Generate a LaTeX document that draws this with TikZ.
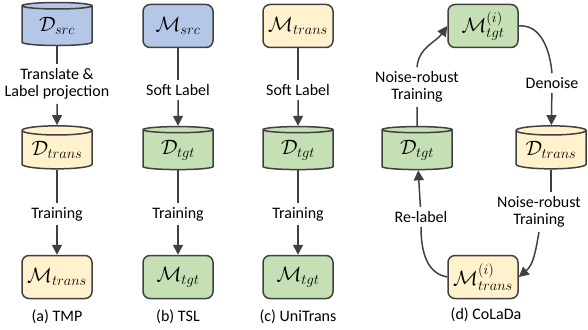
\documentclass[tikz,border=0pt]{standalone}
\usepackage{fontspec}
\setmainfont{Carlito}
\usepackage{amsmath}
\usetikzlibrary{arrows.meta,shapes.geometric}

\definecolor{edge}{HTML}{404040}
\definecolor{bluefill}{HTML}{B4C7E7}
\definecolor{bluetop}{HTML}{DAE3F3}
\definecolor{yellowfill}{HTML}{FFF2CC}
\definecolor{yellowtop}{HTML}{FFF9E8}
\definecolor{greenfill}{HTML}{C5E0B4}
\definecolor{greentop}{HTML}{E2F0D9}

\begin{document}
\begin{tikzpicture}[x=1pt,y=1pt,
    font=\fontsize{16}{17.5}\selectfont,
    model/.style={draw=edge, line width=1.5pt, rounded corners=7pt,
      minimum width=70pt, minimum height=43pt, inner sep=0pt,
      font=\fontsize{20}{24}\selectfont},
    data/.style={cylinder, shape border rotate=90, draw=edge, line width=1.5pt,
      aspect=0.18, minimum width=70pt, minimum height=43pt, inner sep=0pt,
      cylinder uses custom fill, font=\fontsize{20}{24}\selectfont},
    blue/.style={fill=bluefill, cylinder body fill=bluefill, cylinder end fill=bluetop},
    yellow/.style={fill=yellowfill, cylinder body fill=yellowfill, cylinder end fill=yellowtop},
    green/.style={fill=greenfill, cylinder body fill=greenfill, cylinder end fill=greentop},
    lbl/.style={align=center, inner sep=4pt},
    flow/.style={draw=edge, line width=1.5pt},
    >={Triangle[length=10pt,width=10pt]}]
  \useasboundingbox (0,0) rectangle (588,-329);

  % (a) TMP
  \node[data, blue] (srcA) at (57,-26) {$\mathcal{D}_{src}$};
  \node[lbl] (projA) at (57,-84) {Translate \&\\Label projection};
  \node[data, yellow] (transA) at (57,-150) {$\mathcal{D}_{trans}$};
  \node[lbl] (trainA) at (57,-214) {Training};
  \node[model, yellow] (modelA) at (57,-277) {$\mathcal{M}_{trans}$};
  \node (capA) at (57,-317) {(a) TMP};
  \draw[flow] (srcA) -- (projA);
  \draw[flow,->] (projA) -- (transA);
  \draw[flow] (transA) -- (trainA);
  \draw[flow,->] (trainA) -- (modelA);

  % (b) TSL
  \node[model, blue] (srcB) at (178,-26) {$\mathcal{M}_{src}$};
  \node[lbl] (softB) at (178,-90) {Soft Label};
  \node[data, green] (tgtB) at (178,-150) {$\mathcal{D}_{tgt}$};
  \node[lbl] (trainB) at (178,-214) {Training};
  \node[model, green] (modelB) at (178,-277) {$\mathcal{M}_{tgt}$};
  \node (capB) at (178,-317) {(b) TSL};
  \draw[flow] (srcB) -- (softB);
  \draw[flow,->] (softB) -- (tgtB);
  \draw[flow] (tgtB) -- (trainB);
  \draw[flow,->] (trainB) -- (modelB);

  % (c) UniTrans
  \node[model, yellow] (srcC) at (298,-26) {$\mathcal{M}_{trans}$};
  \node[lbl] (softC) at (298,-90) {Soft Label};
  \node[data, green] (tgtC) at (298,-150) {$\mathcal{D}_{tgt}$};
  \node[lbl] (trainC) at (298,-214) {Training};
  \node[model, green] (modelC) at (298,-277) {$\mathcal{M}_{tgt}$};
  \node (capC) at (298,-317) {(c) UniTrans};
  \draw[flow] (srcC) -- (softC);
  \draw[flow,->] (softC) -- (tgtC);
  \draw[flow] (tgtC) -- (trainC);
  \draw[flow,->] (trainC) -- (modelC);

  % (d) CoLaDa
  \node[model, green] (tgtmD) at (483,-26) {$\mathcal{M}^{(i)}_{tgt}$};
  \node[data, green] (tgtD) at (417,-150) {$\mathcal{D}_{tgt}$};
  \node[data, yellow] (transD) at (551,-150) {$\mathcal{D}_{trans}$};
  \node[model, yellow] (transmD) at (483,-277) {$\mathcal{M}^{(i)}_{trans}$};
  \node[lbl] (robustL) at (417,-87) {Noise-robust\\Training};
  \node[lbl] (denoise) at (552,-83) {Denoise};
  \node[lbl] (robustR) at (539,-212) {Noise-robust\\Training};
  \node[lbl] (relabel) at (421,-217) {Re-label};
  \node (capD) at (486,-315) {(d) CoLaDa};
  \draw[flow] (tgtD) -- (robustL);
  \draw[flow,->] (robustL.north) to[out=85,in=235] (tgtmD.west);
  \draw[flow] (tgtmD.east) to[out=5,in=95] (denoise.north);
  \draw[flow,->] (denoise) -- (transD);
  \draw[flow] (transD.bottom) -- (robustR.north -| transD.bottom);
  \draw[flow,->] (robustR.south) to[out=-100,in=40] (transmD.east);
  \draw[flow] (transmD.west) to[out=170,in=-90] (relabel.south);
  \draw[flow,->] (relabel) -- (tgtD);
\end{tikzpicture}
\end{document}
